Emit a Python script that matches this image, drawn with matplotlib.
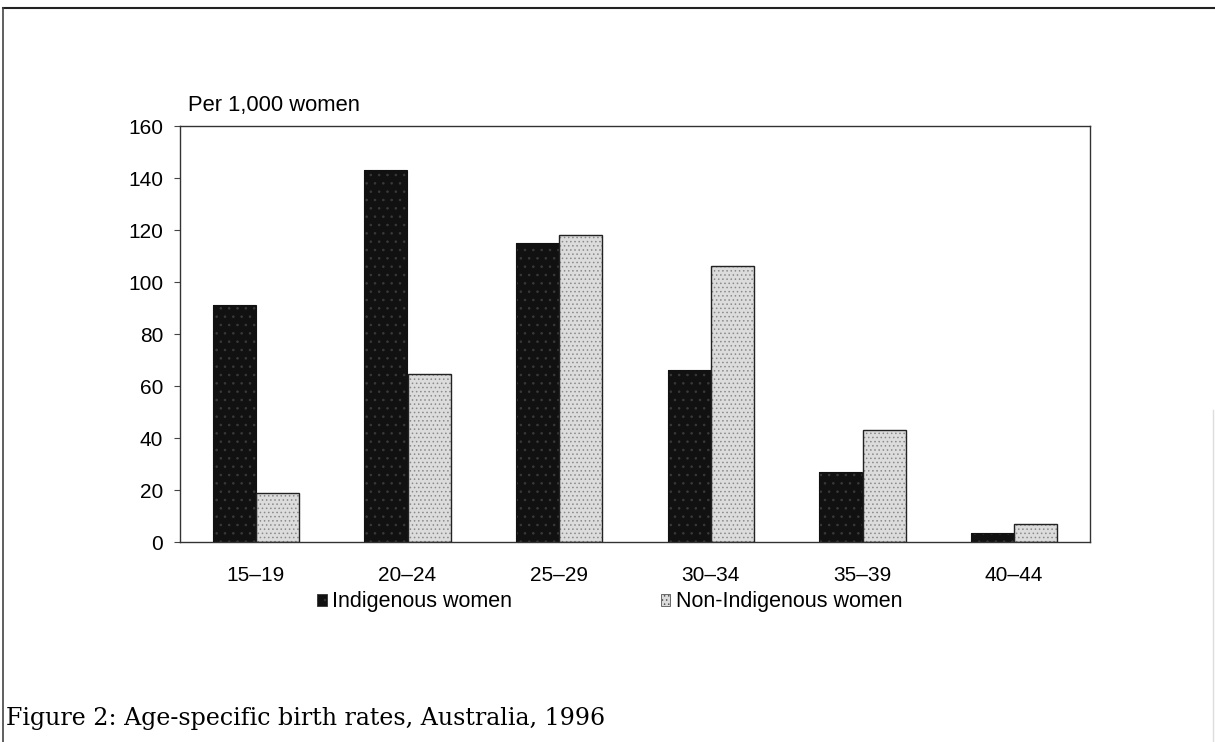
import numpy as np
import matplotlib
matplotlib.use("Agg")
import matplotlib.pyplot as plt
from matplotlib.patches import Patch
from matplotlib.lines import Line2D

# data
age_groups = ["15\u201319", "20\u201324", "25\u201329", "30\u201334", "35\u201339", "40\u201344"]
indigenous = [91, 143, 115, 66, 27, 3.3]
non_indigenous = [19, 64.5, 118, 106, 43, 7]
y_ticks = [0, 20, 40, 60, 80, 100, 120, 140, 160]

plt.rcParams['font.family'] = ['Liberation Sans', 'DejaVu Sans']
plt.rcParams['hatch.linewidth'] = 0.6

W, H = 1215, 742
fig = plt.figure(figsize=(W / 100, H / 100), dpi=100)
ax = fig.add_axes([180 / W, 1 - 542 / H, 910 / W, 416 / H])

x = np.arange(len(age_groups))
bw = 0.285
dark = "#111111"
light = "#dcdcdc"

# dark bars
ax.bar(x - bw / 2, indigenous, bw, color=dark, edgecolor="#3a3a3a",
       hatch="..", linewidth=0, zorder=2)
ax.bar(x - bw / 2, indigenous, bw, facecolor="none", edgecolor=dark,
       linewidth=0.8, zorder=3)
# stippled light bars
ax.bar(x + bw / 2, non_indigenous, bw, color=light, edgecolor="#8a8a8a",
       hatch="....", linewidth=0, zorder=2)
ax.bar(x + bw / 2, non_indigenous, bw, facecolor="none", edgecolor="#222222",
       linewidth=1.0, zorder=3)

ax.set_xlim(-0.5, len(age_groups) - 0.5)
ax.set_ylim(0, 160)
ax.set_yticks(y_ticks)
ax.set_xticks(x)
ax.set_xticklabels(age_groups)
ax.tick_params(axis="y", length=4, width=0.8, pad=8, labelsize=15, color="#444444")
ax.tick_params(axis="x", length=0, pad=17, labelsize=15)
for s in ax.spines.values():
    s.set_linewidth(1.0)
    s.set_color("#333333")

fig.text(188 / W, 1 - 105 / H, "Per 1,000 women", fontsize=15.8, va="center", ha="left")

handles = [Patch(facecolor=dark, edgecolor="#333333", hatch="..", linewidth=0.6),
           Patch(facecolor=light, edgecolor="#555555", hatch="....", linewidth=0.6)]
fig.legend(handles, ["Indigenous women", "Non-Indigenous women"], ncol=2,
           loc="center left", bbox_to_anchor=(317 / W, 1 - 602 / H), frameon=False,
           fontsize=15.5, handlelength=0.45, handleheight=0.45, handletextpad=0.25,
           columnspacing=6.9, borderpad=0, borderaxespad=0)

# page frame lines
fig.add_artist(Line2D([3 / W, 1], [1 - 8 / H, 1 - 8 / H], color="#222222", linewidth=1.5))
fig.add_artist(Line2D([3 / W, 3 / W], [0, 1 - 8 / H], color="#444444", linewidth=1.2))
fig.add_artist(Line2D([1213 / W, 1213 / W], [0, 1 - 410 / H], color="#dddddd", linewidth=1.0))

fig.text(6 / W, 1 - 718 / H, "Figure 2: Age-specific birth rates, Australia, 1996",
         fontsize=17.1, family=["DejaVu Serif"], va="center", ha="left")

fig.savefig("out.png", dpi=100)
